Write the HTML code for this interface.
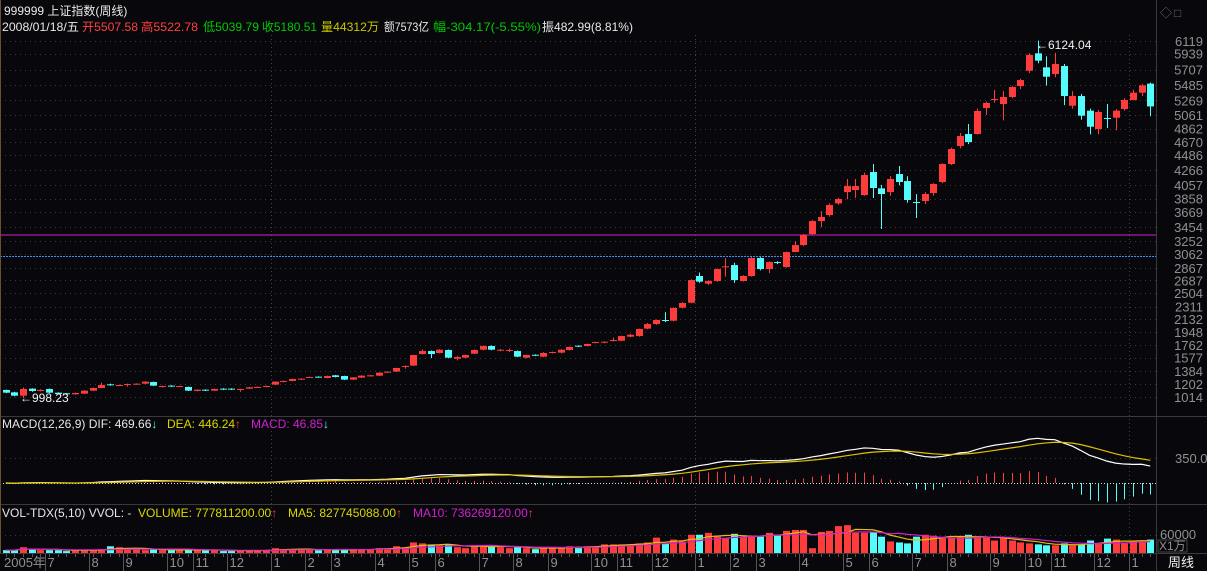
<!DOCTYPE html>
<html><head><meta charset="utf-8"><style>
html,body{margin:0;padding:0;background:#08080c;}
svg{display:block;font-family:"Liberation Sans","Noto Sans CJK SC",sans-serif;}
</style></head><body>
<svg id="chart" width="1207" height="571" viewBox="0 0 1207 571">
<rect x="0" y="0" width="1207" height="571" fill="#08080c"/>
<g id="grid"></g>
<line x1="0" y1="235" x2="1156" y2="235" stroke="#d020d0" stroke-width="1"/>
<line x1="0" y1="256.5" x2="1156" y2="256.5" stroke="#3b8fff" stroke-width="1" stroke-dasharray="2,1"/>
<g id="candles"></g>
<g id="macd"></g>
<g id="vol"></g>
<g id="axis"></g>
<g id="yaxis"></g>
<line x1="1156.5" y1="0" x2="1156.5" y2="571" stroke="#3a3a3a"/>
<line x1="0" y1="416.5" x2="1207" y2="416.5" stroke="#3a3a3a"/>
<line x1="0" y1="504.5" x2="1207" y2="504.5" stroke="#3a3a3a"/>
<line x1="0" y1="553.5" x2="1207" y2="553.5" stroke="#3a3a3a"/>
<line x1="0.5" y1="0" x2="0.5" y2="553" stroke="#6a5030"/>
<text x="1160" y="17" fill="#666" font-size="12">◇</text>
<text x="1174" y="17" fill="#666" font-size="12">□</text>
<text x="4" y="15" fill="#e8e8e8" font-size="12">999999 上证指数(周线)</text>
<g font-size="12">
<text x="2" y="31" fill="#e8e8e8" textLength="77" lengthAdjust="spacingAndGlyphs">2008/01/18/五</text>
<text x="82" y="31" fill="#ff4040" textLength="56" lengthAdjust="spacingAndGlyphs">开5507.58</text>
<text x="141" y="31" fill="#ff4040" textLength="57" lengthAdjust="spacingAndGlyphs">高5522.78</text>
<text x="203" y="31" fill="#00c800" textLength="56" lengthAdjust="spacingAndGlyphs">低5039.79</text>
<text x="262" y="31" fill="#00c800" textLength="55" lengthAdjust="spacingAndGlyphs">收5180.51</text>
<text x="321" y="31" fill="#c8c800" textLength="58" lengthAdjust="spacingAndGlyphs">量44312万</text>
<text x="384" y="31" fill="#e8e8e8" textLength="45" lengthAdjust="spacingAndGlyphs">额7573亿</text>
<text x="433" y="31" fill="#00c800" textLength="108" lengthAdjust="spacingAndGlyphs">幅-304.17(-5.55%)</text>
<text x="542" y="31" fill="#e8e8e8" textLength="91" lengthAdjust="spacingAndGlyphs">振482.99(8.81%)</text>
</g>
<text y="428" font-size="12"><tspan x="2" fill="#e8e8e8">MACD(12,26,9) DIF: 469.66</tspan><tspan fill="#54fcfc">↓</tspan><tspan x="167" fill="#d8d800">DEA: 446.24</tspan><tspan fill="#ff4040">↑</tspan><tspan x="251" fill="#d020d0">MACD: 46.85</tspan><tspan fill="#54fcfc">↓</tspan></text>
<text y="517" font-size="12"><tspan x="2" fill="#e8e8e8">VOL-TDX(5,10) VVOL: -</tspan><tspan x="138" fill="#d8d800">VOLUME: 777811200.00</tspan><tspan fill="#ff4040">↑</tspan><tspan x="288" fill="#d8d800">MA5: 827745088.00</tspan><tspan fill="#ff4040">↑</tspan><tspan x="413" fill="#d020d0">MA10: 736269120.00</tspan><tspan fill="#ff4040">↑</tspan></text>
<text x="1175" y="463" fill="#909090" font-size="13">350.0</text>
<text x="1160" y="539" fill="#909090" font-size="13">60000</text>
<rect x="1158" y="540" width="29" height="12" fill="none" stroke="#444"/>
<text x="1159" y="550" fill="#909090" font-size="12">X1万</text>
<text x="1168" y="567" fill="#f0f0f0" font-size="13">周线</text>
<text x="20" y="402" fill="#f0f0f0" font-size="12">←998.23</text>
<text x="1036" y="49" fill="#f0f0f0" font-size="12">←6124.04</text>
<script>
const opens=[1115,1081,1033,1134,1105,1129,1076,1067,1053,1062,1105,1143,1196,1177,1191,1196,1205,1229,1158,1177,1163,1158,1100,1119,1105,1134,1134,1120,1134,1148,1158,1191,1230,1244,1263,1292,1306,1287,1325,1315,1263,1292,1310,1320,1363,1378,1445,1464,1630,1673,1645,1688,1563,1578,1635,1692,1745,1678,1678,1673,1578,1620,1592,1650,1650,1688,1750,1745,1793,1793,1821,1821,1879,1888,1994,2060,2118,2108,2295,2366,2749,2639,2677,2883,2906,2677,2749,3007,2849,2949,2878,3093,3193,3351,3537,3624,3791,3953,3982,3910,4240,4006,3953,4211,4111,3810,3824,3939,4097,4355,4613,4785,4785,5158,5282,5215,5316,5473,5693,5942,5741,5646,5760,5191,5330,5120,4857,5015,5019,5144,5273,5378,5508];
const closes=[1076,1033,1129,1100,1115,1076,1057,1053,1072,1105,1143,1186,1182,1186,1200,1205,1234,1177,1172,1167,1172,1105,1119,1105,1129,1120,1120,1129,1153,1158,1172,1234,1244,1272,1277,1301,1292,1315,1301,1263,1296,1320,1325,1363,1378,1430,1459,1616,1673,1630,1692,1578,1587,1616,1688,1745,1692,1692,1688,1592,1616,1611,1645,1659,1692,1731,1736,1774,1802,1807,1831,1888,1907,1989,2060,2118,2108,2290,2362,2691,2668,2677,2849,2888,2691,2749,3007,2849,2949,2940,3093,3193,3337,3537,3595,3767,3853,4039,4039,4197,4011,3925,4140,4097,3839,3805,3925,4068,4355,4570,4756,4670,5115,5230,5287,5316,5459,5559,5918,5837,5607,5789,5330,5330,5048,4890,5101,5010,5120,5273,5378,5483,5181];
const highs=[1120,1090,1150,1140,1125,1135,1080,1072,1076,1110,1148,1220,1205,1192,1205,1210,1240,1234,1178,1182,1176,1163,1124,1124,1134,1140,1140,1132,1158,1164,1178,1238,1250,1278,1282,1306,1310,1320,1330,1318,1300,1326,1330,1368,1384,1434,1465,1620,1697,1680,1700,1695,1600,1622,1695,1755,1755,1700,1710,1680,1620,1625,1655,1665,1698,1737,1755,1780,1806,1812,1865,1895,1920,1994,2075,2125,2230,2298,2375,2700,2800,2690,2855,3006,2940,2760,3020,3020,2960,2960,3100,3250,3350,3550,3680,3790,3870,4140,4140,4230,4355,4055,4180,4326,4180,3924,3950,4080,4365,4590,4800,4928,5150,5250,5416,5400,5470,5580,5940,6124,5900,5950,5790,5400,5360,5150,5130,5215,5140,5300,5420,5500,5522];
const lows=[1070,1025,998,1090,1095,1070,1050,1048,1048,1058,1100,1140,1175,1170,1163,1190,1200,1172,1150,1160,1158,1100,1095,1100,1100,1115,1115,1090,1128,1144,1154,1186,1226,1240,1258,1288,1288,1283,1296,1258,1258,1288,1306,1316,1358,1374,1420,1460,1625,1573,1640,1570,1540,1570,1630,1685,1685,1670,1660,1585,1570,1600,1585,1640,1640,1680,1730,1740,1785,1785,1810,1815,1870,1880,1985,2050,2090,2100,2285,2360,2650,2620,2665,2740,2650,2670,2740,2830,2790,2920,2870,3090,3180,3340,3450,3600,3770,3850,3870,3900,3867,3423,3900,4050,3800,3580,3780,3900,4080,4340,4580,4640,4780,5060,5234,4980,5300,5430,5660,5800,5480,5600,5200,5150,4990,4780,4780,4870,4840,5120,5270,5330,5040];
const volumes=[9600,9600,19200,12800,9600,9600,9600,6400,9600,9600,9600,12800,22400,19200,12800,12800,9600,12800,9600,9600,9600,12800,9600,9600,9600,6400,6400,6400,9600,9600,9600,16000,12800,12800,12800,9600,9600,12800,9600,12800,9600,12800,12800,16000,16000,22400,19200,35200,32000,25600,25600,28800,19200,16000,22400,25600,25600,19200,16000,19200,16000,12800,19200,16000,19200,22400,19200,22400,22400,28800,28800,28800,28800,32000,35200,51200,32000,44800,38400,60800,60800,67200,54400,48000,64000,54400,57600,54400,67200,60800,73600,76800,76800,16000,70400,73600,89600,92800,67200,67200,70400,54400,38400,35200,32000,54400,60800,57600,51200,51200,54400,60800,51200,51200,41600,51200,41600,35200,32000,28800,25600,25600,32000,25600,28800,41600,32000,48000,44800,32000,41600,38400,44800];
const priceTicks=[6119,5939,5707,5485,5269,5061,4862,4670,4486,4266,4057,3858,3669,3454,3252,3062,2867,2687,2504,2311,2132,1948,1762,1577,1384,1202,1014];
const monthStartIdx=[5,10,14,19,22,26,31,35,38,43,47,50,55,59,63,68,71,75,80,84,87,92,97,100,105,109,114,118,121,126,130];
const monthLabels=["7","8","9","10","11","12","1","2","3","4","5","6","7","8","9","10","11","12","1","2","3","4","5","6","7","8","9","10","11","12","1"];
const yearLineIdx=[31,80,130];

const NS="http://www.w3.org/2000/svg";
const X0=5.8, STEP=8.67, BW=7;
const xOf=i=>X0+STEP*i;
const yP=v=>41+(6119-v)*356/5105;
const ZERO=483, yM=v=>ZERO-v*25/350;
const VBASE=553, yV=v=>VBASE-v*18/60000;
function mk(tag,attrs,parent){const e=document.createElementNS(NS,tag);for(const k in attrs)e.setAttribute(k,attrs[k]);parent.appendChild(e);return e;}
const RED="#ff3c3c", CYAN="#54fcfc";
const grid=document.getElementById('grid');
priceTicks.forEach(v=>{
  const l=mk('line',{x1:0,x2:1156,y1:Math.round(yP(v))+0.5,y2:Math.round(yP(v))+0.5,stroke:'#3a3a3a','stroke-dasharray':'1,4'},grid);
  
  
});
yearLineIdx.forEach(i=>{
  const x=Math.round(xOf(i)-4)+0.5;
  const l=mk('line',{x1:x,x2:x,y1:35,y2:553,stroke:'#444','stroke-dasharray':'1,3'},grid);
  
  
});
[458.5,535.5].forEach(y=>{
  const l=mk('line',{x1:0,x2:1156,y1:y,y2:y,stroke:'#3a3a3a','stroke-dasharray':'1,4'},grid);
  
  
});
const yax=document.getElementById('yaxis');
priceTicks.forEach(v=>{
  const t=mk('text',{x:1203,y:yP(v)+5,fill:'#909090','font-size':13,'text-anchor':'end'},yax);
  t.textContent=v;
  
  
});
const cg=document.getElementById('candles');
opens.forEach((o,i)=>{
  const c=closes[i], up=c>=o, col=up?RED:CYAN, x=xOf(i);
  const g=mk('g',{},cg);
  
  
  const top=yP(Math.max(o,c)), bot=yP(Math.min(o,c));
  mk('line',{x1:Math.round(x)+0.5,x2:Math.round(x)+0.5,y1:yP(highs[i]),y2:yP(lows[i]),stroke:col},g);
  mk('rect',{x:Math.round(x)-3,y:top,width:BW,height:Math.max(1,bot-top),fill:col},g);
});
function ema(arr,n){const k=2/(n+1);const out=[];arr.forEach((v,i)=>out.push(i?out[i-1]+k*(v-out[i-1]):v));return out;}
const e12=ema(closes,12), e26=ema(closes,26);
const dif=closes.map((_,i)=>e12[i]-e26[i]);
const dea=ema(dif,9);
const mg=document.getElementById('macd');
const zl=mk('line',{x1:0,x2:1156,y1:ZERO+0.5,y2:ZERO+0.5,stroke:'#ddd','stroke-dasharray':'1,2'},mg);


dif.forEach((d,i)=>{
  const h=2*(d-dea[i]);
  const x=Math.round(xOf(i))+0.5;
  const l=mk('line',{x1:x,x2:x,y1:ZERO,y2:yM(h),stroke:h>=0?RED:CYAN},mg);
  
  
});
const pd=dif.map((d,i)=>xOf(i)+','+yM(d)).join(' ');
const pl1=mk('polyline',{points:pd,fill:'none',stroke:'#ffffff','stroke-width':1.2},mg);


const pe=dea.map((d,i)=>xOf(i)+','+yM(d)).join(' ');
const pl2=mk('polyline',{points:pe,fill:'none',stroke:'#e0c000','stroke-width':1.2},mg);


const vg=document.getElementById('vol');
volumes.forEach((v,i)=>{
  const up=closes[i]>=opens[i];
  const r=mk('rect',{x:Math.round(xOf(i))-3,y:yV(v),width:BW,height:VBASE-yV(v),fill:up?RED:CYAN},vg);
  
  
});
function ma(arr,n){return arr.map((_,i)=>{const s=arr.slice(Math.max(0,i-n+1),i+1);return s.reduce((a,b)=>a+b,0)/s.length;});}
const ma5=ma(volumes,5), ma10=ma(volumes,10);
const m5=mk('polyline',{points:ma5.map((v,i)=>xOf(i)+','+yV(v)).join(' '),fill:'none',stroke:'#e0c000','stroke-width':1.2},vg);


const m10=mk('polyline',{points:ma10.map((v,i)=>xOf(i)+','+yV(v)).join(' '),fill:'none',stroke:'#d020d0','stroke-width':1.2},vg);


const ax=document.getElementById('axis');
const t0=mk('text',{x:4,y:567,fill:'#909090','font-size':13},ax);
t0.textContent='2005年';


opens.forEach((_,i)=>{
  const x=Math.round(xOf(i))+0.5;
  const tk=mk('line',{x1:x,x2:x,y1:554,y2:557,stroke:'#555'},ax);
  
  
});
monthStartIdx.forEach((idx,k)=>{
  const x=Math.round(xOf(idx)-4)+0.5;
  const l=mk('line',{x1:x,x2:x,y1:554,y2:571,stroke:'#555'},ax);
  
  
  const t=mk('text',{x:x+2,y:567,fill:'#909090','font-size':13},ax);
  t.textContent=monthLabels[k];
  
  
});
</script>
</svg>
</body></html>
